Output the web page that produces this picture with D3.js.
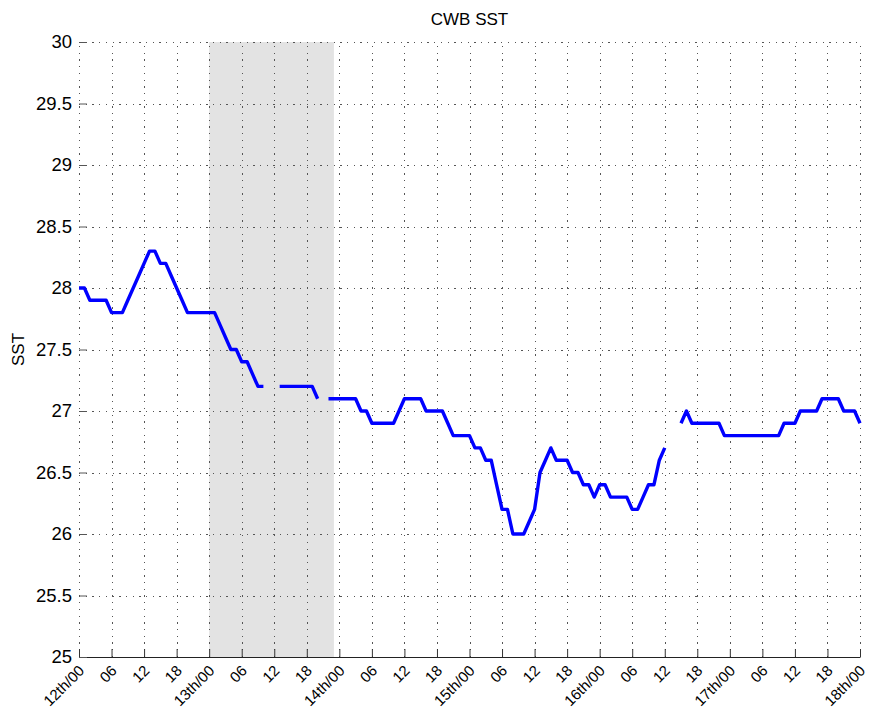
<!DOCTYPE html>
<html>
<head>
<meta charset="utf-8">
<script src="https://cdn.jsdelivr.net/npm/d3@7"></script>
<style>
  html, body { margin: 0; padding: 0; background: #fff; }
  svg { display: block; font-family: "Liberation Sans", Arial, Helvetica, sans-serif; }
</style>
</head>
<body>
<svg id="chart" width="869" height="713"></svg>
<script>
// Hourly sea-surface temperature, hours counted from 12th/00 (null = no report)
const hours = d3.range(0, 145);
const sst = [
  28.0, 28.0, 27.9, 27.9, 27.9, 27.9, 27.8, 27.8, 27.8, 27.9, // 0-9
  28.0, 28.1, 28.2, 28.3, 28.3, 28.2, 28.2, 28.1, 28.0, 27.9, // 10-19
  27.8, 27.8, 27.8, 27.8, 27.8, 27.8, 27.7, 27.6, 27.5, 27.5, // 20-29
  27.4, 27.4, 27.3, 27.2, 27.2, null, null, 27.2, 27.2, 27.2, // 30-39
  27.2, 27.2, 27.2, 27.2, 27.1, null, 27.1, 27.1, 27.1, 27.1, // 40-49
  27.1, 27.1, 27.0, 27.0, 26.9, 26.9, 26.9, 26.9, 26.9, 27.0, // 50-59
  27.1, 27.1, 27.1, 27.1, 27.0, 27.0, 27.0, 27.0, 26.9, 26.8, // 60-69
  26.8, 26.8, 26.8, 26.7, 26.7, 26.6, 26.6, 26.4, 26.2, 26.2, // 70-79
  26.0, 26.0, 26.0, 26.1, 26.2, 26.5, 26.6, 26.7, 26.6, 26.6, // 80-89
  26.6, 26.5, 26.5, 26.4, 26.4, 26.3, 26.4, 26.4, 26.3, 26.3, // 90-99
  26.3, 26.3, 26.2, 26.2, 26.3, 26.4, 26.4, 26.6, 26.7, null, // 100-109
  null, 26.9, 27.0, 26.9, 26.9, 26.9, 26.9, 26.9, 26.9, 26.8, // 110-119
  26.8, 26.8, 26.8, 26.8, 26.8, 26.8, 26.8, 26.8, 26.8, 26.8, // 120-129
  26.9, 26.9, 26.9, 27.0, 27.0, 27.0, 27.0, 27.1, 27.1, 27.1, // 130-139
  27.1, 27.0, 27.0, 27.0, 26.9                                // 140-144
];

// Night-time shading (hours)
const shadeStart = 24;
const shadeEnd = 47;

const xTickHours = d3.range(0, 145, 6);
const yTicks = [25, 25.5, 26, 26.5, 27, 27.5, 28, 28.5, 29, 29.5, 30];
const firstDay = 12;

const svg = d3.select("#chart");
const margin = { left: 79, right: 9, top: 42, bottom: 56 };
const W = 869, H = 713;

const x = d3.scaleLinear().domain([0, 144]).range([margin.left, W - margin.right]);
const y = d3.scaleLinear().domain([25, 30]).range([H - margin.bottom, margin.top]);

const fmtHour = h => h % 24 === 0
  ? `${firstDay + h / 24}th/00`
  : String(h % 24).padStart(2, "0");

// shaded band
svg.append("rect")
  .attr("x", x(shadeStart))
  .attr("y", y(30))
  .attr("width", x(shadeEnd) - x(shadeStart))
  .attr("height", y(25) - y(30))
  .attr("fill", "#e3e3e3");

// dotted grid
const grid = svg.append("g")
  .attr("stroke", "#555")
  .attr("stroke-width", 1)
  .attr("stroke-dasharray", "1.3,5.4")
  .attr("shape-rendering", "crispEdges");
grid.selectAll("line.v").data(xTickHours.slice(1)).join("line")
  .attr("x1", d => Math.round(x(d)) + 0.5).attr("x2", d => Math.round(x(d)) + 0.5)
  .attr("y1", y(25)).attr("y2", y(30));
grid.append("line")
  .attr("x1", x(0) + 0.5).attr("x2", x(0) + 0.5)
  .attr("y1", y(25)).attr("y2", y(30));
grid.selectAll("line.h").data(yTicks.slice(1)).join("line")
  .attr("x1", x(0)).attr("x2", x(144))
  .attr("y1", d => Math.round(y(d)) + 0.5).attr("y2", d => Math.round(y(d)) + 0.5);

// x axis (bottom, ticks inward)
const xAxis = d3.axisBottom(x)
  .tickValues(xTickHours)
  .tickSize(-8)
  .tickSizeOuter(0)
  .tickFormat(fmtHour);
const gx = svg.append("g")
  .attr("transform", `translate(0,${y(25)})`)
  .call(xAxis);
gx.select(".domain").attr("stroke", "#222");
gx.selectAll(".tick line").attr("stroke", "#333");
gx.selectAll(".tick text")
  .attr("font-size", 15)
  .attr("fill", "#000")
  .attr("text-anchor", "end")
  .attr("dy", "0.35em")
  .attr("transform", "translate(2,11) rotate(-45)")
  .attr("y", 0)
  .attr("x", 0);

// y axis (left, ticks only, no spine)
const yAxis = d3.axisLeft(y)
  .tickValues(yTicks)
  .tickSize(-8)
  .tickSizeOuter(0)
  .tickFormat(d3.format("~g"));
const gy = svg.append("g")
  .attr("transform", `translate(${x(0)},0)`)
  .call(yAxis);
gy.select(".domain").remove();
gy.selectAll(".tick line").attr("stroke", "#555");
gy.selectAll(".tick text")
  .attr("font-size", 18.5)
  .attr("fill", "#000")
  .attr("x", -7);

// SST series
const line = d3.line()
  .defined(d => d.v != null)
  .x(d => x(d.h))
  .y(d => y(d.v));
svg.append("path")
  .datum(hours.map((h, i) => ({ h, v: sst[i] })))
  .attr("fill", "none")
  .attr("stroke", "#0000ff")
  .attr("stroke-width", 3.4)
  .attr("stroke-linejoin", "round")
  .attr("d", line);

// title and axis label
svg.append("text")
  .attr("x", (x(0) + x(144)) / 2)
  .attr("y", 25)
  .attr("text-anchor", "middle")
  .attr("font-size", 17)
  .text("CWB SST");

svg.append("text")
  .attr("transform", `translate(24,${(y(25) + y(30)) / 2}) rotate(-90)`)
  .attr("text-anchor", "middle")
  .attr("font-size", 17)
  .text("SST");
</script>
</body>
</html>
